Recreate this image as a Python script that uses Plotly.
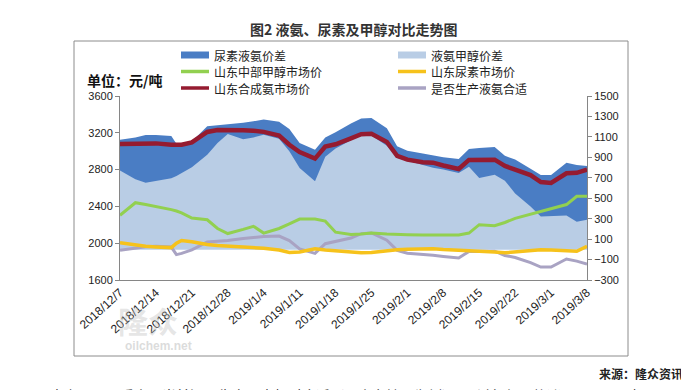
import plotly.graph_objects as go

dates = ["2018-12-07", "2018-12-10", "2018-12-12", "2018-12-14", "2018-12-17", "2018-12-18",
         "2018-12-19", "2018-12-21", "2018-12-24", "2018-12-26", "2018-12-28", "2018-12-31",
         "2019-01-02", "2019-01-04", "2019-01-07", "2019-01-09", "2019-01-11", "2019-01-14",
         "2019-01-16", "2019-01-18", "2019-01-21", "2019-01-23", "2019-01-25", "2019-01-28",
         "2019-01-30", "2019-02-01", "2019-02-04", "2019-02-06", "2019-02-08", "2019-02-11",
         "2019-02-13", "2019-02-15", "2019-02-18", "2019-02-20", "2019-02-22", "2019-02-25",
         "2019-02-27", "2019-03-01", "2019-03-04", "2019-03-06", "2019-03-08"]

# right axis series
urea_ammonia_spread = [1072, 1095, 1118, 1118, 1108, 1032, 1032, 1056, 1203, 1212, 1219, 1239,
                       1253, 1269, 1248, 1176, 1040, 974, 1095, 1145, 1230, 1280, 1285, 1185,
                       1008, 965, 938, 920, 902, 884, 982, 992, 1000, 915, 879, 789,
                       728, 728, 848, 825, 816]
ammonia_methanol_spread = [771, 686, 652, 672, 695, 718, 744, 803, 925, 1040, 1129, 1077,
                           1095, 1122, 1082, 960, 795, 666, 906, 987, 1068, 1118, 1113, 1014,
                           893, 866, 821, 798, 780, 747, 807, 699, 730, 672, 546, 420,
                           321, 323, 330, 271, 289]
suitability = [-10, 10, 25, 29, 22, -52, -40, -5, 72, 80, 86, 105,
               115, 125, 130, 85, 5, -40, 55, 80, 110, 153, 160, 90,
               -10, -38, -48, -58, -70, -85, -20, -18, -18, -60, -80, -130,
               -173, -173, -95, -115, -145]

# left axis series
methanol = [2304, 2440, 2420, 2400, 2365, 2350, 2330, 2274, 2255, 2160, 2105, 2150,
            2184, 2110, 2160, 2210, 2262, 2262, 2240, 2120, 2095, 2100, 2111, 2100,
            2093, 2093, 2090, 2090, 2090, 2090, 2110, 2201, 2190, 2225, 2270, 2315,
            2350, 2375, 2420, 2510, 2510]
urea = [2005, 1980, 1966, 1960, 1952, 2000, 2030, 2015, 1985, 1975, 1970, 1962,
        1958, 1945, 1925, 1900, 1905, 1940, 1925, 1915, 1905, 1897, 1900, 1922,
        1930, 1935, 1940, 1940, 1932, 1925, 1922, 1920, 1905, 1895, 1905, 1920,
        1930, 1925, 1915, 1912, 1966]
ammonia = [3078, 3080, 3085, 3085, 3070, 3064, 3070, 3095, 3209, 3230, 3234, 3228,
           3223, 3210, 3170, 3070, 2990, 2919, 3050, 3075, 3140, 3185, 3190, 3100,
           2950, 2908, 2880, 2875, 2845, 2806, 2905, 2908, 2908, 2840, 2800, 2740,
           2665, 2655, 2760, 2765, 2800]

tick_dates = ["2018-12-07", "2018-12-14", "2018-12-21", "2018-12-28", "2019-01-04", "2019-01-11",
              "2019-01-18", "2019-01-25", "2019-02-01", "2019-02-08", "2019-02-15", "2019-02-22",
              "2019-03-01", "2019-03-08"]
tick_labels = ["2018/12/7", "2018/12/14", "2018/12/21", "2018/12/28", "2019/1/4", "2019/1/11",
               "2019/1/18", "2019/1/25", "2019/2/1", "2019/2/8", "2019/2/15", "2019/2/22",
               "2019/3/1", "2019/3/8"]

series_names = ["尿素液氨价差", "液氨甲醇价差", "山东中部甲醇市场价", "山东尿素市场价",
                "山东合成氨市场价", "是否生产液氨合适"]

W, H = 689, 390
L, R, T, B = 112, 579, 88, 272


def px(x):
    return (x - L) / (R - L)


def py(y):
    return (B - y) / (B - T)


CJK = "Noto Sans CJK SC"
AX = "#868686"
C_DARK, C_LIGHT = "#4A7DC4", "#B9CDE5"
C_GREEN, C_YELLOW, C_RED, C_GRAY = "#92D050", "#F6C21B", "#951B30", "#A9A3C3"

fig = go.Figure()
fig.add_trace(go.Scatter(x=dates, y=urea_ammonia_spread, name=series_names[0], yaxis="y",
                         mode="lines", line=dict(width=0, color=C_DARK),
                         fill="tozeroy", fillcolor=C_DARK))
fig.add_trace(go.Scatter(x=dates, y=ammonia_methanol_spread, name=series_names[1], yaxis="y",
                         mode="lines", line=dict(width=0, color=C_LIGHT),
                         fill="tozeroy", fillcolor=C_LIGHT))
fig.add_trace(go.Scatter(x=dates, y=methanol, name=series_names[2], yaxis="y2",
                         mode="lines", line=dict(width=3, color=C_GREEN)))
fig.add_trace(go.Scatter(x=dates, y=urea, name=series_names[3], yaxis="y2",
                         mode="lines", line=dict(width=3.5, color=C_YELLOW)))
fig.add_trace(go.Scatter(x=dates, y=ammonia, name=series_names[4], yaxis="y2",
                         mode="lines", line=dict(width=4.5, color=C_RED)))
fig.add_trace(go.Scatter(x=dates, y=suitability, name=series_names[5], yaxis="y",
                         mode="lines", line=dict(width=3, color=C_GRAY)))

fig.update_layout(
    width=W, height=H,
    margin=dict(l=L, r=W - R, t=T, b=H - B, pad=0),
    paper_bgcolor="white", plot_bgcolor="rgba(0,0,0,0)",
    font=dict(family="Liberation Sans, Arial", size=11, color="#222"),
    showlegend=False,
    xaxis=dict(type="date", range=[dates[0], dates[-1]], tickvals=tick_dates, ticktext=tick_labels,
               tickangle=-42, showgrid=False, zeroline=False, showline=True, linecolor=AX,
               linewidth=1, ticks="", tickfont=dict(size=12, color="#222")),
    yaxis=dict(side="right", range=[-300, 1500], tick0=-300, dtick=200, showgrid=False,
               zeroline=False, showline=True, linecolor=AX, ticks="outside", ticklen=4,
               tickcolor=AX, tickfont=dict(size=11, color="#222")),
    yaxis2=dict(side="left", overlaying="y", range=[1600, 3600], dtick=400, showgrid=False,
                zeroline=False, showline=True, linecolor=AX, ticks="outside", ticklen=4,
                tickcolor=AX, tickfont=dict(size=11, color="#222")),
)

# outer frame of chart
fig.add_shape(type="rect", xref="paper", yref="paper", x0=px(66), x1=px(620), y0=py(348), y1=py(33),
              line=dict(color="#8C8C8C", width=1), fillcolor="rgba(0,0,0,0)", layer="below")

# legend (two columns, tight rows as in the original)
legend_items = [
    (series_names[0], "area", C_DARK, 173, 47),
    (series_names[1], "area", C_LIGHT, 390, 47),
    (series_names[2], "line", C_GREEN, 173, 63.5),
    (series_names[3], "line", C_YELLOW, 390, 63.5),
    (series_names[4], "line", C_RED, 173, 80),
    (series_names[5], "line", C_GRAY, 390, 80),
]
for name, kind, color, x0, yc in legend_items:
    if kind == "area":
        fig.add_shape(type="rect", xref="paper", yref="paper", x0=px(x0), x1=px(x0 + 28),
                      y0=py(yc + 3.5), y1=py(yc - 3.5), line=dict(width=0), fillcolor=color)
    else:
        fig.add_shape(type="line", xref="paper", yref="paper", x0=px(x0), x1=px(x0 + 28),
                      y0=py(yc), y1=py(yc), line=dict(color=color, width=3.5))
    fig.add_annotation(text=name, x=px(x0 + 31), y=py(yc), xref="paper", yref="paper",
                       xanchor="left", yanchor="middle", showarrow=False,
                       font=dict(family=CJK, size=12, color="#222"))

ann = [
    dict(text="<b>图2 液氨、尿素及甲醇对比走势图</b>", x=px(345), y=py(21), xanchor="center",
         yanchor="middle", font=dict(family=CJK, size=14, color="#333")),
    dict(text="<b>单位：元/吨</b>", x=px(77), y=py(72), xanchor="left", yanchor="middle",
         font=dict(family=CJK, size=14, color="#111")),
    dict(text="<b>来源：隆众资讯</b>", x=px(677), y=py(365), xanchor="right", yanchor="middle",
         font=dict(family=CJK, size=12, color="#222")),
    dict(text="由上图可以看出，当前还是生产尿素相对合适（以山东地区为例），不过氨气价格涨至2000元/吨以",
         x=px(40), y=py(375), xanchor="left", yanchor="top",
         font=dict(family=CJK, size=14, color="#333")),
    dict(text="<b>隆众</b>", x=px(140), y=py(312), xanchor="center", yanchor="middle",
         font=dict(family=CJK, size=30, color="rgba(190,190,190,0.4)")),
    dict(text="<b>oilchem.net</b>", x=px(150), y=py(338), xanchor="center", yanchor="middle",
         font=dict(family="Liberation Sans", size=12, color="rgba(190,190,190,0.55)")),
]
for a in ann:
    a.update(xref="paper", yref="paper", showarrow=False)
    fig.add_annotation(**a)

fig.write_html("out.html")
